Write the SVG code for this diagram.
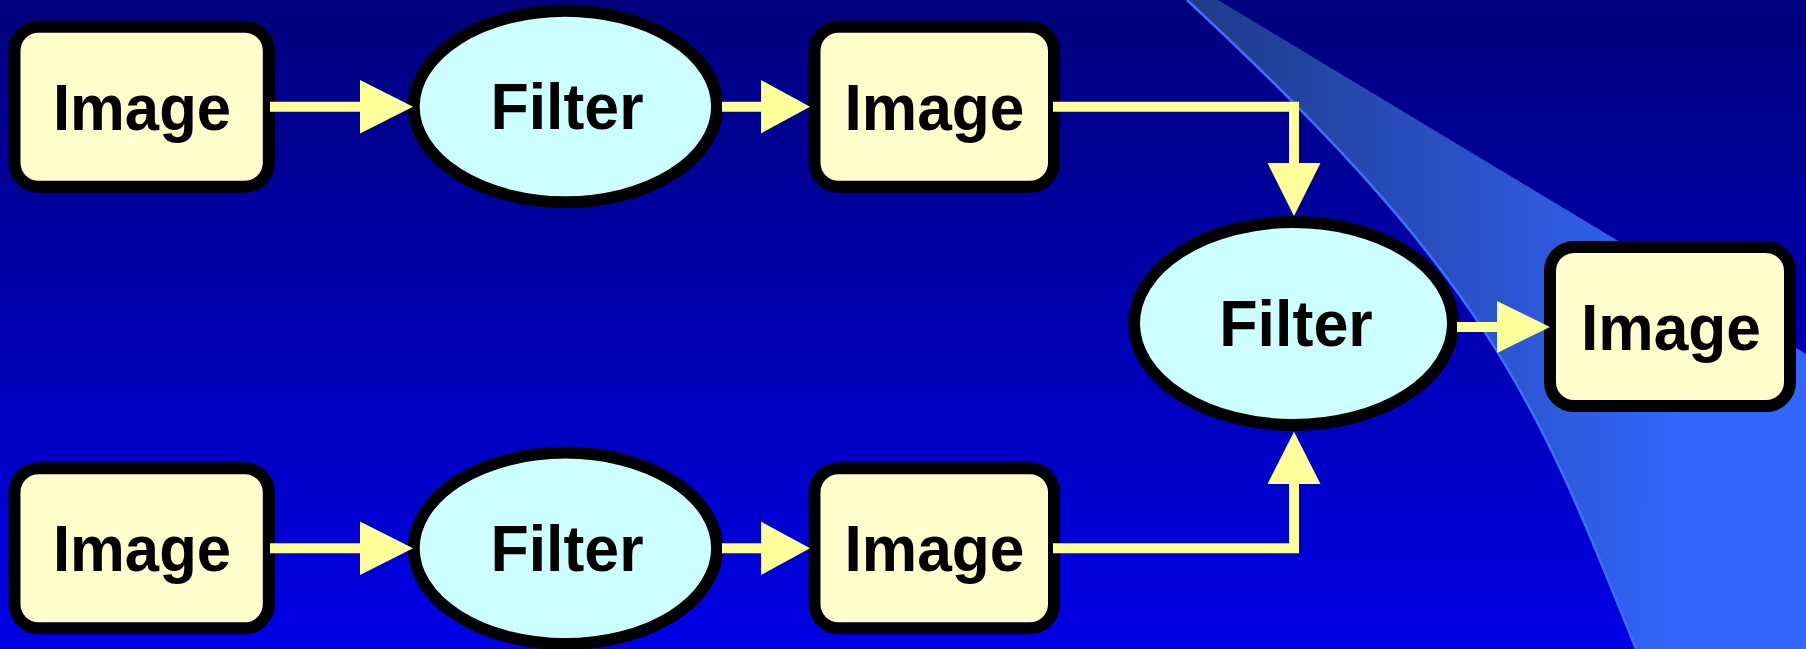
<svg xmlns="http://www.w3.org/2000/svg" width="1806" height="649" viewBox="0 0 1806 649">
  <defs>
    <linearGradient id="bg" x1="0" y1="0" x2="0" y2="1">
      <stop offset="0" stop-color="#00007C"/>
      <stop offset="1" stop-color="#0000E6"/>
    </linearGradient>
    <linearGradient id="swoosh" gradientUnits="userSpaceOnUse" x1="1190" y1="0" x2="1700" y2="0">
      <stop offset="0" stop-color="#1F3A88"/>
      <stop offset="1" stop-color="#3366FF"/>
    </linearGradient>
    <style>
      .box { fill: #FFFFCC; stroke: #000; stroke-width: 12; }
      .oval { fill: #CCFFFF; stroke: #000; stroke-width: 12; }
      .label { font-family: "Liberation Sans", Arial, sans-serif; font-weight: bold; font-size: 65px; fill: #000; text-anchor: middle; }
      .wire { fill: none; stroke: #FFFF99; stroke-width: 10; stroke-linejoin: miter; stroke-linecap: butt; }
      .head { fill: #FFFF99; }
    </style>
  </defs>

  <!-- backdrop -->
  <rect x="0" y="0" width="1806" height="649" fill="url(#bg)"/>
  <path d="M1187,0 C1489,280 1536,399 1636,649 L1806,649 L1806,354 L1218,0 Z" fill="url(#swoosh)"/>
  <path d="M1187,0 C1489,280 1536,399 1636,649" fill="none" stroke="#3F70FF" stroke-width="2.5"/>

  <!-- nodes -->
  <g id="image-top-left">
    <rect class="box" x="14.5" y="26.7" width="254.3" height="160" rx="24" ry="24"/>
    <text class="label" x="142" y="129.5" textLength="178" lengthAdjust="spacingAndGlyphs">Image</text>
  </g>
  <g id="filter-top">
    <ellipse class="oval" cx="565.4" cy="106.5" rx="151.7" ry="95.7"/>
    <text class="label" x="567" y="128.8" textLength="153" lengthAdjust="spacingAndGlyphs">Filter</text>
  </g>
  <g id="image-top-mid">
    <rect class="box" x="814.5" y="26.7" width="239.5" height="160" rx="24" ry="24"/>
    <text class="label" x="934.5" y="129.5" textLength="180" lengthAdjust="spacingAndGlyphs">Image</text>
  </g>
  <g id="image-bottom-left">
    <rect class="box" x="14.5" y="468.3" width="254.3" height="160" rx="24" ry="24"/>
    <text class="label" x="142" y="571" textLength="178" lengthAdjust="spacingAndGlyphs">Image</text>
  </g>
  <g id="filter-bottom">
    <ellipse class="oval" cx="565.4" cy="548.3" rx="151.7" ry="95.7"/>
    <text class="label" x="567" y="570.6" textLength="153" lengthAdjust="spacingAndGlyphs">Filter</text>
  </g>
  <g id="image-bottom-mid">
    <rect class="box" x="814.5" y="468.3" width="239.5" height="160" rx="24" ry="24"/>
    <text class="label" x="934.5" y="571" textLength="180" lengthAdjust="spacingAndGlyphs">Image</text>
  </g>
  <g id="filter-merge">
    <ellipse class="oval" cx="1293.5" cy="323.5" rx="159.5" ry="101.5"/>
    <text class="label" x="1296" y="346" textLength="153.5" lengthAdjust="spacingAndGlyphs">Filter</text>
  </g>
  <g id="image-result">
    <rect class="box" x="1550" y="247" width="240" height="159" rx="24" ry="24"/>
    <text class="label" x="1671" y="349.5" textLength="180" lengthAdjust="spacingAndGlyphs">Image</text>
  </g>

  <!-- connectors -->
  <g id="connectors">
    <path class="wire" d="M270,106.7 H362"/>
    <polygon class="head" points="360,80 413,106.7 360,133.4"/>

    <path class="wire" d="M722,106.7 H763"/>
    <polygon class="head" points="761,80 810,106.7 761,133.4"/>

    <path class="wire" d="M1053,106.7 H1294 V165"/>
    <polygon class="head" points="1267.5,163 1320.5,163 1294,216"/>

    <path class="wire" d="M270,548.3 H362"/>
    <polygon class="head" points="360,521.6 413,548.3 360,575"/>

    <path class="wire" d="M722,548.3 H763"/>
    <polygon class="head" points="761,521.6 810,548.3 761,575"/>

    <path class="wire" d="M1053,548.2 H1294 V482"/>
    <polygon class="head" points="1267.5,484 1320.5,484 1294,431.7"/>

    <path class="wire" d="M1457,327 H1499"/>
    <polygon class="head" points="1497,301 1550,327 1497,353"/>
  </g>
</svg>
